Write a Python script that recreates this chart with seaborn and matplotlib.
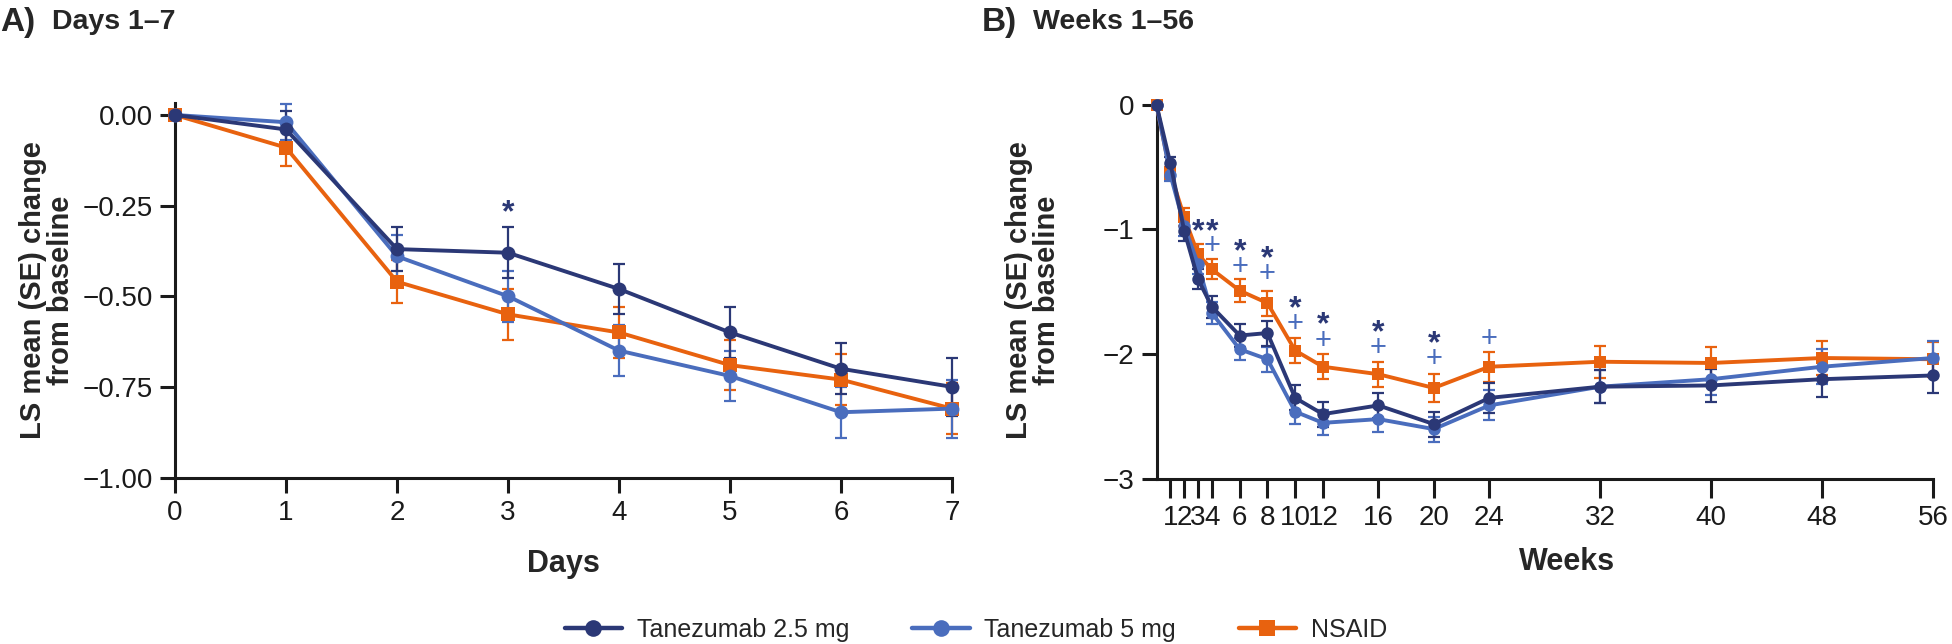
import numpy as np
import pandas as pd
import matplotlib
matplotlib.use("Agg")
import matplotlib.pyplot as plt
import seaborn as sns
from matplotlib.lines import Line2D

sns.set_theme(style="ticks")
plt.rcParams['font.family'] = ['Liberation Sans', 'DejaVu Sans']

# ---------------- data ----------------
series = ["Tanezumab 2.5 mg", "Tanezumab 5 mg", "NSAID"]
colors = ["#2b3876", "#4a6dbd", "#e8620f"]
markers = ["o", "o", "s"]

days = [0, 1, 2, 3, 4, 5, 6, 7]
day_tan25 = [0.0, -0.04, -0.37, -0.38, -0.48, -0.60, -0.70, -0.75]
day_tan25_se = [0.0, 0.05, 0.06, 0.07, 0.07, 0.07, 0.07, 0.08]
day_tan5 = [0.0, -0.02, -0.39, -0.50, -0.65, -0.72, -0.82, -0.81]
day_tan5_se = [0.0, 0.05, 0.06, 0.07, 0.07, 0.07, 0.07, 0.08]
day_nsaid = [0.0, -0.09, -0.46, -0.55, -0.60, -0.69, -0.73, -0.81]
day_nsaid_se = [0.0, 0.05, 0.06, 0.07, 0.07, 0.07, 0.07, 0.07]

weeks = [0, 1, 2, 3, 4, 6, 8, 10, 12, 16, 20, 24, 32, 40, 48, 56]
wk_tan25 = [0.0, -0.47, -1.01, -1.40, -1.62, -1.85, -1.83, -2.35, -2.48, -2.41, -2.56, -2.35, -2.26, -2.25, -2.20, -2.17]
wk_tan25_se = [0.0, 0.05, 0.08, 0.08, 0.09, 0.09, 0.10, 0.10, 0.10, 0.10, 0.10, 0.12, 0.13, 0.13, 0.14, 0.14]
wk_tan5 = [0.0, -0.56, -0.97, -1.28, -1.67, -1.96, -2.04, -2.46, -2.55, -2.52, -2.60, -2.41, -2.26, -2.20, -2.10, -2.03]
wk_tan5_se = [0.0, 0.05, 0.08, 0.08, 0.09, 0.09, 0.10, 0.10, 0.10, 0.10, 0.10, 0.12, 0.13, 0.13, 0.14, 0.14]
wk_nsaid = [0.0, -0.55, -0.90, -1.20, -1.32, -1.49, -1.59, -1.97, -2.10, -2.16, -2.27, -2.10, -2.06, -2.07, -2.03, -2.04]
wk_nsaid_se = [0.0, 0.05, 0.07, 0.08, 0.08, 0.09, 0.10, 0.10, 0.10, 0.10, 0.11, 0.12, 0.13, 0.13, 0.14, 0.14]

day_ticks = [0, 1, 2, 3, 4, 5, 6, 7]
day_yticks = [0.0, -0.25, -0.5, -0.75, -1.0]
day_yticklabels = ["0.00", "\u22120.25", "\u22120.50", "\u22120.75", "\u22121.00"]
wk_ticks = [1, 2, 3, 4, 6, 8, 10, 12, 16, 20, 24, 32, 40, 48, 56]
wk_yticks = [0, -1, -2, -3]
wk_yticklabels = ["0", "\u22121", "\u22122", "\u22123"]

# significance markers
day_star_x = [3]
day_star_y = [-0.27]
wk_star_x = [3, 4, 6, 8, 10, 12, 16, 20]
wk_star_y = [-1.02, -1.02, -1.18, -1.24, -1.64, -1.77, -1.83, -1.92]
wk_plus_x = [4, 6, 8, 10, 12, 16, 20, 24]
wk_plus_y = [-1.13, -1.30, -1.36, -1.76, -1.89, -1.95, -2.04, -1.88]

df_days = pd.DataFrame({
    "x": days * 3,
    "y": day_tan25 + day_tan5 + day_nsaid,
    "se": day_tan25_se + day_tan5_se + day_nsaid_se,
    "group": sum([[s] * len(days) for s in series], []),
})
df_wks = pd.DataFrame({
    "x": weeks * 3,
    "y": wk_tan25 + wk_tan5 + wk_nsaid,
    "se": wk_tan25_se + wk_tan5_se + wk_nsaid_se,
    "group": sum([[s] * len(weeks) for s in series], []),
})

W, H = 1952, 644
fig = plt.figure(figsize=(W / 100, H / 100), dpi=100)
axA = fig.add_axes([175 / W, 1 - 477.5 / H, (952 - 175) / W, (477.5 - 103) / H])
axB = fig.add_axes([1156.5 / W, 1 - 479 / H, (1933 - 1156.5) / W, (479 - 101) / H])

palette = dict(zip(series, colors))
mdict = dict(zip(series, markers))


def draw(ax, df, ms):
    order = [series[2], series[1], series[0]]
    for s in order:
        d = df[df.group == s]
        ax.errorbar(d.x, d.y, yerr=d.se, fmt="none", ecolor=palette[s],
                    elinewidth=1.6, capsize=4.5, capthick=1.6, clip_on=False, zorder=2)
    sns.lineplot(data=df, x="x", y="y", hue="group", style="group",
                 palette=palette, markers=mdict, dashes=False, hue_order=order,
                 style_order=order, markersize=ms, markeredgewidth=0,
                 linewidth=2.8, ax=ax, legend=False, clip_on=False, zorder=3)


draw(axA, df_days, 10)
draw(axB, df_wks, 9)

for ax in (axA, axB):
    sns.despine(ax=ax)
    for sp in ("left", "bottom"):
        ax.spines[sp].set_linewidth(2.2)
        ax.spines[sp].set_color("#1a1a1a")
    ax.tick_params(axis="both", direction="out", length=11, width=2.2,
                   colors="#1a1a1a", labelsize=20, pad=5)
    ax.set_facecolor("none")

axA.set_xlim(0, 7)
axA.set_ylim(-1.0, 0.033)
axA.set_xticks(day_ticks)
axA.set_yticks(day_yticks)
axA.set_yticklabels(day_yticklabels)
axA.set_xlabel("Days", fontsize=22, fontweight="bold", labelpad=17)
axA.set_ylabel("LS mean (SE) change\nfrom baseline", fontsize=21,
               fontweight="bold", labelpad=5, linespacing=1.0)

axB.set_xlim(0, 56)
axB.set_ylim(-3, 0.03)
axB.set_xticks(wk_ticks)
axB.set_xticklabels([str(t) for t in wk_ticks])
axB.set_yticks(wk_yticks)
axB.set_yticklabels(wk_yticklabels)
axB.tick_params(axis="x", length=14)
axB.set_xlabel("Weeks", fontsize=22, fontweight="bold", labelpad=11)
axB.xaxis.label.set_x(0.529)
axB.set_ylabel("LS mean (SE) change\nfrom baseline", fontsize=21,
               fontweight="bold", labelpad=30, linespacing=1.0)

for x, y in zip(day_star_x, day_star_y):
    axA.text(x, y, "*", color=colors[0], fontsize=23, fontweight="bold",
             ha="center", va="center")
for x, y in zip(wk_star_x, wk_star_y):
    axB.text(x, y, "*", color=colors[0], fontsize=23, fontweight="bold",
             ha="center", va="center")
for x, y in zip(wk_plus_x, wk_plus_y):
    axB.text(x, y, "+", color=colors[1], fontsize=21,
             ha="center", va="center")

# panel titles
fig.text(0 / W, 1 - 22 / H, "A)", fontsize=24, fontweight="bold", va="center", ha="left")
fig.text(52 / W, 1 - 22 / H, "Days 1\u20137", fontsize=20.5, fontweight="bold", va="center", ha="left")
fig.text(982 / W, 1 - 22 / H, "B)", fontsize=24, fontweight="bold", va="center", ha="left")
fig.text(1033 / W, 1 - 22 / H, "Weeks 1\u201356", fontsize=20.5, fontweight="bold", va="center", ha="left")

handles = [Line2D([0], [0], color=c, marker=m, markersize=12, linewidth=3.2,
                  markeredgewidth=0) for c, m in zip(colors, markers)]
fig.legend(handles, series, loc="center", bbox_to_anchor=(0.5, 1 - 630 / H),
           ncol=3, frameon=False, fontsize=18, handlelength=2.3,
           columnspacing=2.5, handletextpad=0.6)

fig.savefig("out.png", dpi=100, facecolor="white")
